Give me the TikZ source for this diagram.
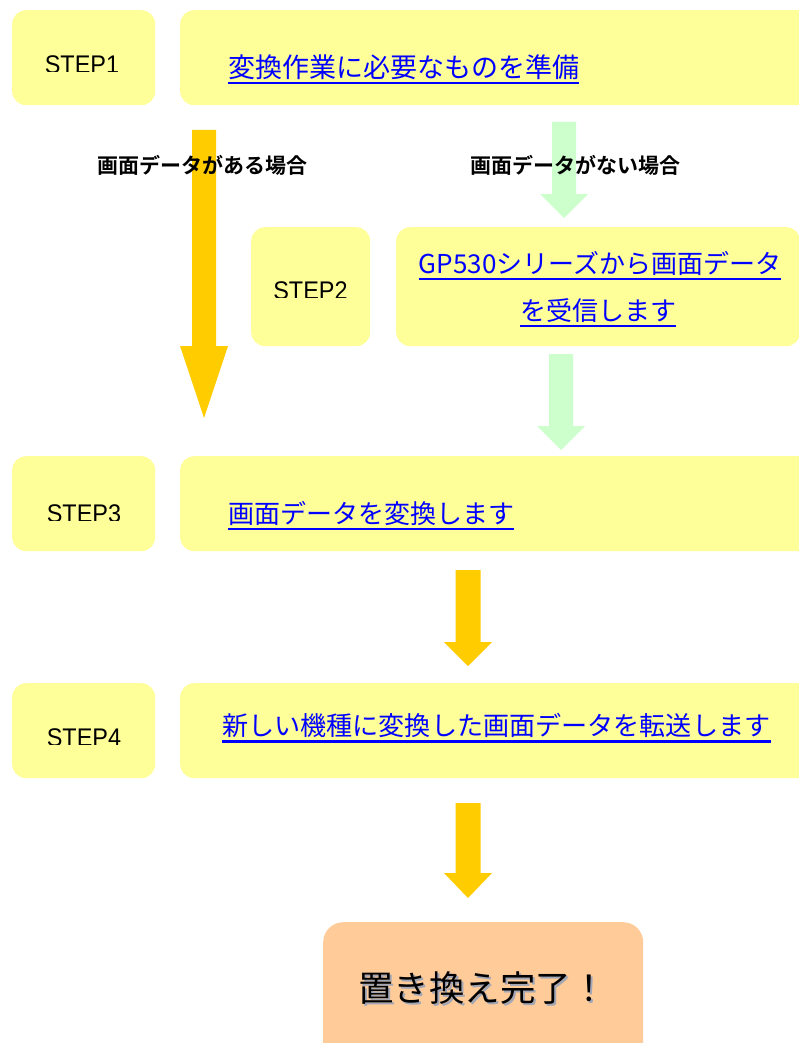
\documentclass[tikz,border=0pt]{standalone}
\usepackage{fontspec}
\setmainfont{Liberation Sans}
\newfontfamily\jp{Noto Sans CJK JP}[BoldFont={Noto Sans CJK JP Bold}]
\definecolor{boxyellow}{HTML}{FFFF99}
\definecolor{finorange}{HTML}{FFCC99}
\definecolor{arrorange}{HTML}{FFCC00}
\definecolor{arrgreen}{HTML}{CCFFCC}
\definecolor{linkblue}{HTML}{0000FF}
\definecolor{shadowgray}{HTML}{A3A6B4}
\newcommand\blkarrow[6]{%
  \fill[#1] ({#2-#6},#3) -- ({#2+#6},#3) -- ({#2+#6},#4) -- ({#2+24},#4)
    -- (#2,#5) -- ({#2-24},#4) -- ({#2-#6},#4) -- cycle;}
\newcommand\steptext[1]{\scalebox{0.92}[1]{#1}}
\tikzset{
  ybox/.style={fill=boxyellow, rounded corners=14pt, inner sep=0pt, anchor=north west},
  stepnum/.style={font=\fontsize{25.5}{30}\selectfont, inner sep=0pt, anchor=base},
  linktext/.style={text=linkblue, inner sep=0pt},
  uline/.style={draw=linkblue, line width=2.7pt},
  caselabel/.style={font=\jp\bfseries\fontsize{21}{25}\selectfont, inner sep=0pt, anchor=base west},
}
\begin{document}
\begin{tikzpicture}[x=1pt,y=-1pt]
\useasboundingbox (0,0) rectangle (799,1043);
\clip (0,0) rectangle (799,1043);
\fill[white] (0,0) rectangle (799,1043);
% boxes
\node[ybox, minimum width=143pt, minimum height=95pt] (s1) at (12,10) {};
\node[ybox, minimum width=640pt, minimum height=95pt] (b1) at (180,10) {};
\node[ybox, minimum width=119pt, minimum height=119pt] (s2) at (251,227) {};
\node[ybox, minimum width=404pt, minimum height=119pt] (b2) at (396,227) {};
\node[ybox, minimum width=143pt, minimum height=95pt] (s3) at (12,456) {};
\node[ybox, minimum width=640pt, minimum height=95pt] (b3) at (180,456) {};
\node[ybox, minimum width=143pt, minimum height=95pt] (s4) at (12,683) {};
\node[ybox, minimum width=640pt, minimum height=95pt] (b4) at (180,683) {};
\node[fill=finorange, rounded corners=20pt, inner sep=0pt, anchor=north west,
      minimum width=320pt, minimum height=150pt] (fin) at (323,922) {};
% arrows
\blkarrow{arrorange}{204}{130}{346}{418}{12}
\blkarrow{arrgreen}{564}{122}{194}{218}{12}
\blkarrow{arrgreen}{561}{354}{426}{450}{12}
\blkarrow{arrorange}{468}{570}{642}{666}{12.5}
\blkarrow{arrorange}{468}{803}{873}{898}{12.5}
% step labels (bottoms slightly cut as in the picture)
\begin{scope}\clip (0,0) rectangle (799,72);
\node[stepnum] (l1) at (82,73.3) {\steptext{STEP1}};\end{scope}
\begin{scope}\clip (0,0) rectangle (799,297.5);
\node[stepnum] (l2) at (310.5,299.5) {\steptext{STEP2}};\end{scope}
\begin{scope}\clip (0,0) rectangle (799,520);
\node[stepnum] (l3) at (84,522) {\steptext{STEP3}};\end{scope}
\begin{scope}\clip (0,0) rectangle (799,744.5);
\node[stepnum] (l4) at (84,746.5) {\steptext{STEP4}};\end{scope}
% link texts
\node[linktext, font=\jp\fontsize{27}{32}\selectfont, anchor=base west] (t1) at (228,77.5) {変換作業に必要なものを準備};
\draw[uline] ([yshift=-5.5pt]t1.base west) -- ([yshift=-5.5pt]t1.base east);
\node[linktext, font=\jp\fontsize{26}{31}\selectfont, anchor=base] (t2a) at (600,273) {GP530シリーズから画面データ};
\draw[uline] ([yshift=-6pt]t2a.base west) -- ([yshift=-6pt]t2a.base east);
\node[linktext, font=\jp\fontsize{26}{31}\selectfont, anchor=base] (t2b) at (598,320.5) {を受信します};
\draw[uline] ([yshift=-5.5pt]t2b.base west) -- ([yshift=-5.5pt]t2b.base east);
\node[linktext, font=\jp\fontsize{26}{31}\selectfont, anchor=base west] (t3) at (228,523.5) {画面データを変換します};
\draw[uline] ([yshift=-5.5pt]t3.base west) -- ([yshift=-5.5pt]t3.base east);
\node[linktext, font=\jp\fontsize{26.1}{31}\selectfont, anchor=base west] (t4) at (222,735.5) {新しい機種に変換した画面データを転送します};
\draw[uline] ([yshift=-6pt]t4.base west) -- ([yshift=-6pt]t4.base east);
% case labels
\node[caselabel] (c1) at (97,174) {画面データがある場合};
\node[caselabel] (c2) at (470,174) {画面データがない場合};
% final text with shadow
\node[font=\jp\fontsize{35.5}{42}\selectfont, text=shadowgray, inner sep=0pt, anchor=base west] (fs) at (360,1003) {置き換え完了！};
\node[font=\jp\fontsize{35.5}{42}\selectfont, inner sep=0pt, anchor=base west] (ft) at (358,1001) {置き換え完了！};
\end{tikzpicture}
\end{document}
